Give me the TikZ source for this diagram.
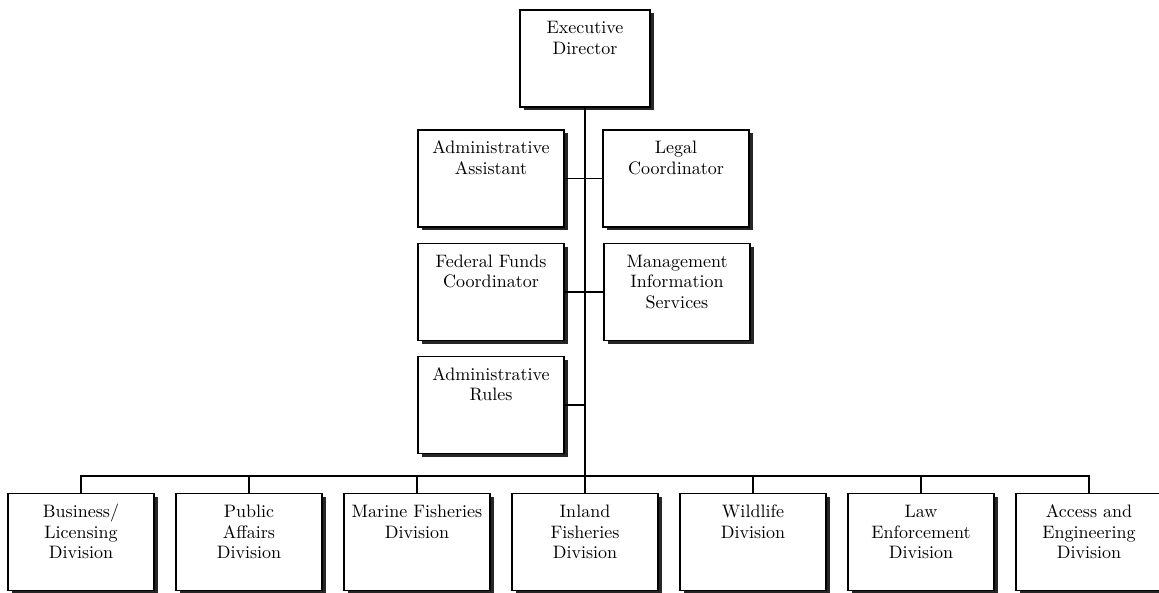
\documentclass[tikz,border=0pt]{standalone}
\usepackage{fontspec}
\setmainfont{lmroman10-regular.otf}
\usetikzlibrary{shadows}
\newcommand{\orgtext}[2][140pt]{\parbox[t][90pt][t]{#1}{\centering\rule{0pt}{20.5pt}#2}}
\tikzset{
  orgbox/.style={draw, fill=white, line width=1.1pt, rectangle, minimum width=146pt,
    minimum height=97pt, inner xsep=3pt, inner ysep=3.5pt,
    font=\fontsize{18}{20.5}\selectfont,
    drop shadow={shadow xshift=4pt, shadow yshift=-3.5pt, fill=black!85, opacity=1}},
  orgline/.style={line width=1.1pt}
}
\begin{document}
\begin{tikzpicture}[x=1pt,y=-1pt]
                \useasboundingbox (0,0) rectangle (1159,593);
                \coordinate (bus) at (585,476);
                \node[orgbox, minimum width=130pt] (exec) at (585,58.5) {\orgtext[124pt]{Executive\\Director}};
                \node[orgbox] (aa) at (491,178.5) {\orgtext{Administrative\\Assistant}};
                \node[orgbox] (lc) at (676,178.5) {\orgtext{Legal\\Coordinator}};
                \node[orgbox] (ffc) at (491,292) {\orgtext{Federal Funds\\Coordinator}};
                \node[orgbox] (mis) at (677,292) {\orgtext{Management\\Information\\Services}};
                \node[orgbox] (ar) at (491,405) {\orgtext{Administrative\\Rules}};
                \node[orgbox] (bld) at (81,542) {\orgtext{Business/\\Licensing\\Division}};
                \node[orgbox] (pad) at (249,542) {\orgtext{Public\\Affairs\\Division}};
                \node[orgbox] (mfd) at (417,542) {\orgtext{Marine Fisheries\\Division}};
                \node[orgbox] (ifd) at (585,542) {\orgtext{Inland\\Fisheries\\Division}};
                \node[orgbox] (wd) at (753,542) {\orgtext{Wildlife\\Division}};
                \node[orgbox] (led) at (921,542) {\orgtext{Law\\Enforcement\\Division}};
                \node[orgbox] (aed) at (1089,542) {\orgtext{Access and\\Engineering\\Division}};
                \draw[orgline] (exec.south) -- (bus);
                \draw[orgline] (aa.east) -- (lc.west);
                \draw[orgline] (ffc.east) -- (mis.west);
                \draw[orgline] (ar.east) -- (ar.east -| bus);
                \draw[orgline] (bld.north) |- (bus) -| (aed.north);
                \draw[orgline] (pad.north) -- (pad.north |- bus);
                \draw[orgline] (mfd.north) -- (mfd.north |- bus);
                \draw[orgline] (ifd.north) -- (ifd.north |- bus);
                \draw[orgline] (wd.north) -- (wd.north |- bus);
                \draw[orgline] (led.north) -- (led.north |- bus);
            \end{tikzpicture}
\end{document}
